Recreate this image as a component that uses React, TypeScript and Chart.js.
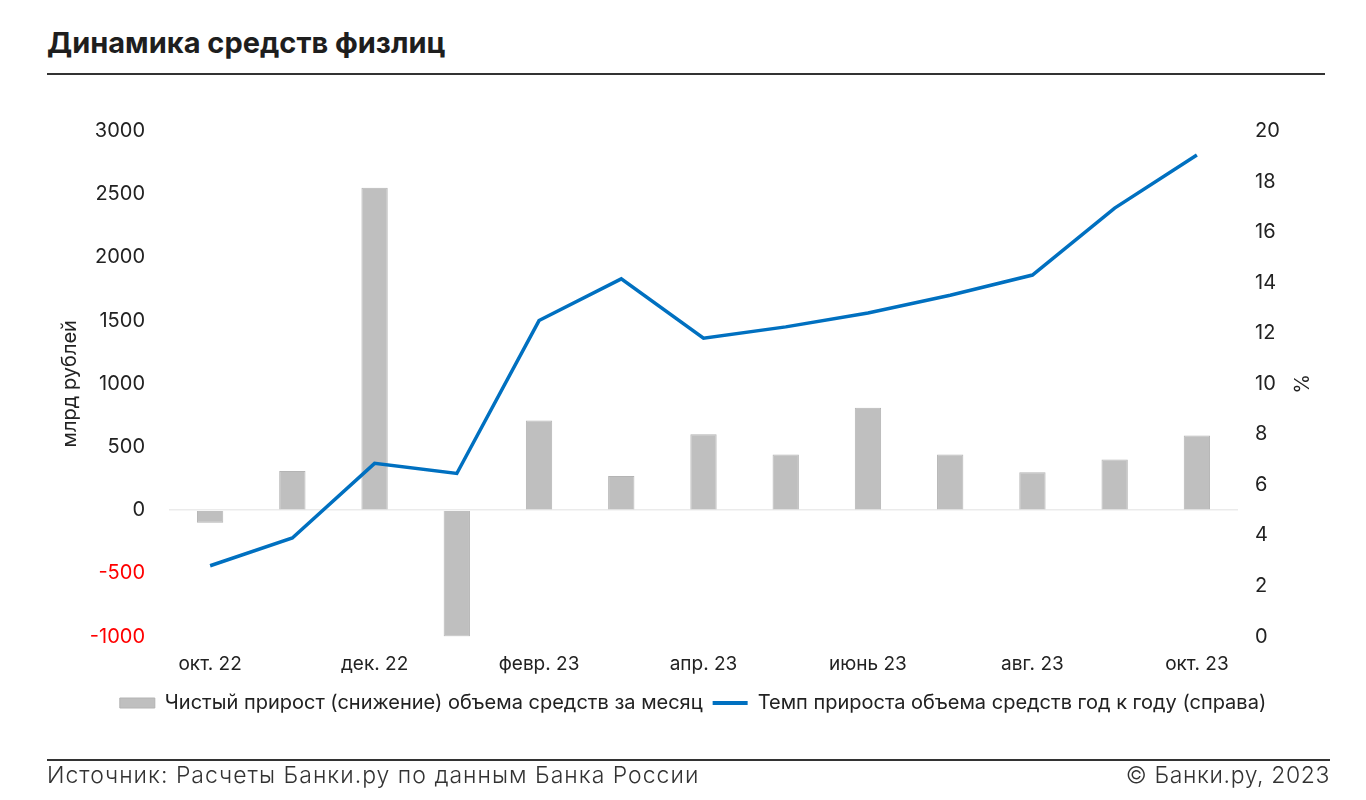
import React, { useEffect, useRef } from "react";
import { Chart, registerables } from "chart.js";

Chart.register(...registerables);

const months = [
  "окт. 22", "нояб. 22", "дек. 22", "янв. 23", "февр. 23", "март 23", "апр. 23",
  "май 23", "июнь 23", "июль 23", "авг. 23", "сент. 23", "окт. 23",
];
const netInflow = [-100, 310, 2550, -1000, 710, 270, 600, 440, 810, 440, 300, 400, 590];
const yoyGrowth = [2.8, 3.9, 6.85, 6.45, 12.5, 14.15, 11.8, 12.25, 12.8, 13.5, 14.3, 16.95, 19.05];
const barLabel = "Чистый прирост (снижение) объема средств за месяц";
const lineLabel = "Темп прироста объема средств год к году (справа)";
const leftTitle = "млрд рублей";
const rightTitle = "%";

const FONT = "Inter, 'Noto Sans', sans-serif";

export default function App() {
  const ref = useRef<HTMLCanvasElement | null>(null);

  useEffect(() => {
    if (!ref.current) return;
    const chart = new Chart(ref.current, {
      type: "bar",
      data: {
        labels: months,
        datasets: [
          {
            type: "bar",
            label: barLabel,
            data: netInflow,
            backgroundColor: "#bfbfbf",
            borderColor: "#b4b4b4",
            borderWidth: 1,
            barPercentage: 0.32,
            categoryPercentage: 1,
            yAxisID: "y",
            order: 2,
          },
          {
            type: "line",
            label: lineLabel,
            data: yoyGrowth,
            borderColor: "#0070c0",
            backgroundColor: "#0070c0",
            borderWidth: 3.5,
            pointRadius: 0,
            tension: 0,
            yAxisID: "y1",
            order: 1,
          },
        ],
      },
      options: {
        responsive: false,
        animation: false,
        layout: { padding: { left: 40, right: 20, top: 131, bottom: 77 } },
        plugins: {
          tooltip: { enabled: false },
          legend: {
            position: "bottom",
            labels: {
              color: "#222",
              font: { family: FONT, size: 20 },
              usePointStyle: true,
              pointStyleWidth: 35,
              boxHeight: 10,
              padding: 10,
              sort: (a: any, b: any) => a.datasetIndex - b.datasetIndex,
              generateLabels: (chart: any) => {
                const items = Chart.defaults.plugins.legend.labels.generateLabels(chart);
                return items.map((it: any) => {
                  if (it.datasetIndex === 0) {
                    return { ...it, pointStyle: "rect", fillStyle: "#bfbfbf", strokeStyle: "#b4b4b4", lineWidth: 1 };
                  }
                  return { ...it, pointStyle: "line", strokeStyle: "#0070c0", fillStyle: "#0070c0", lineWidth: 4 };
                });
              },
            },
          },
        },
        scales: {
          x: {
            grid: { display: false, drawTicks: false },
            border: { display: false },
            ticks: {
              autoSkip: false,
              maxRotation: 0,
              padding: 16,
              color: "#222",
              font: { family: FONT, size: 19 },
              callback: (_v: any, i: number) => (i % 2 === 0 ? months[i] : ""),
            },
            afterFit: (s: any) => { s.height = 46.5; },
          },
          y: {
            position: "left",
            min: -1000,
            max: 3000,
            ticks: {
              stepSize: 500,
              padding: 24,
              font: { family: FONT, size: 20 },
              color: (c: any) => (c.tick && c.tick.value < 0 ? "#ff0000" : "#222"),
              callback: (v: any) => String(v),
            },
            grid: {
              drawTicks: false,
              color: (c: any) => (c.tick && c.tick.value === 0 ? "#ebebeb" : "rgba(0,0,0,0)"),
              lineWidth: 1.5,
            },
            border: { display: false },
            title: {
              display: true,
              text: leftTitle,
              color: "#222",
              font: { family: FONT, size: 20 },
              padding: { top: 18, bottom: 0 },
            },
            afterFit: (s: any) => { s.width = 129; },
          },
          y1: {
            position: "right",
            min: 0,
            max: 20,
            ticks: {
              stepSize: 2,
              padding: 17,
              font: { family: FONT, size: 20 },
              color: "#222",
              callback: (v: any) => String(v),
            },
            grid: { display: false, drawTicks: false },
            border: { display: false },
            title: {
              display: true,
              text: rightTitle,
              color: "#222",
              font: { family: FONT, size: 20 },
              padding: { top: 34, bottom: 0 },
            },
            afterFit: (s: any) => { s.width = 108; },
          },
        },
      },
    });
    return () => chart.destroy();
  }, []);

  return (
    <div style={{ position: "absolute", left: 0, top: 0, width: 1366, height: 800, background: "#fff", fontFamily: FONT }}>
      <div style={{ position: "absolute", left: 47, top: 25, fontSize: 29, fontWeight: 700, color: "#1e1e1e", whiteSpace: "nowrap" }}>
        Динамика средств физлиц
      </div>
      <div style={{ position: "absolute", left: 47, top: 73, width: 1278, height: 1.5, background: "#333" }} />
      <canvas ref={ref} width={1366} height={800} style={{ position: "absolute", left: 0, top: 0, width: 1366, height: 800 }} />
      <div style={{ position: "absolute", left: 47, top: 759, width: 1283, height: 1.5, background: "#333" }} />
      <div style={{ position: "absolute", left: 47, top: 761, fontSize: 23, letterSpacing: 1, fontWeight: 300, color: "#333", whiteSpace: "nowrap" }}>
        Источник: Расчеты Банки.ру по данным Банка России
      </div>
      <div style={{ position: "absolute", right: 36, top: 761, fontSize: 23, letterSpacing: 0.6, fontWeight: 300, color: "#333", whiteSpace: "nowrap" }}>
        © Банки.ру, 2023
      </div>
    </div>
  );
}
